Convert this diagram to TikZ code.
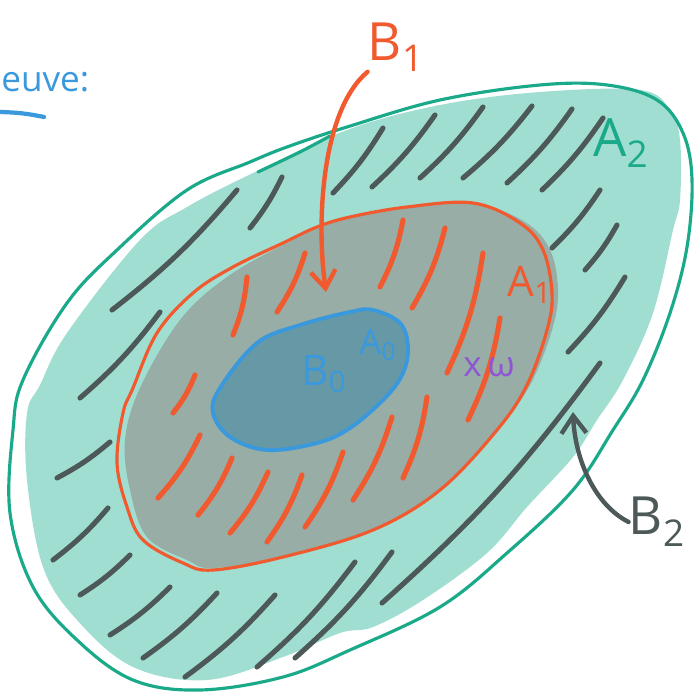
\documentclass[tikz,border=0pt]{standalone}
\usepackage{fontspec}
\setmainfont{Open Sans}
\usetikzlibrary{arrows.meta}

\definecolor{rimgreen}{HTML}{1AAA8A}
\definecolor{ringteal}{HTML}{A0DED2}
\definecolor{midgray}{HTML}{97ADA5}
\definecolor{coreblue}{HTML}{3A98DD}
\definecolor{corefill}{HTML}{6699A5}
\definecolor{penorange}{HTML}{F05A2E}
\definecolor{pengray}{HTML}{4D5858}
\definecolor{penpurple}{HTML}{8E55D5}

\begin{document}
\begin{tikzpicture}[x=0.02cm, y=-0.02cm,
  % Region Styles
  rim/.style={draw=rimgreen, line width=1.8pt, line cap=round},
  ringfill/.style={fill=ringteal},
  midfill/.style={fill=midgray},
  midrim/.style={draw=penorange, line width=1.8pt},
  corerim/.style={draw=coreblue, line width=2.2pt, fill=corefill},
  % Stroke Styles
  hatchdark/.style={draw=pengray, line width=2.9pt, line cap=round},
  hatchred/.style={draw=penorange, line width=2.9pt, line cap=round},
  pointer/.style={line width=2.5pt, line cap=round, -{Straight Barb[length=3.5mm, width=5mm]}},
  % Label Styles
  biglabel/.style={font=\fontsize{30}{30}\selectfont, inner sep=0pt},
  midlabel/.style={font=\fontsize{24}{24}\selectfont, inner sep=0pt},
  smalllabel/.style={font=\fontsize{20}{20}\selectfont, inner sep=0pt},
]
\useasboundingbox (0,0) rectangle (693,695);

% Outer set A2
\fill[ringfill] plot[smooth cycle, tension=0.6] coordinates {(253,173) (347,130) (440,105) (540,92) (640,90) (670,110) (680,140) (680,200) (673,230) (653,313) (623,380) (597,420) (573,457) (527,507) (487,553) (423,600) (373,627) (340,633) (283,657) (207,680) (133,667) (77,620) (43,567) (27,480) (27,413) (40,385) (67,333) (140,240) (187,207)};
\draw[rim] plot[smooth cycle, tension=0.6] coordinates {(287,147) (347,127) (440,100) (540,85) (607,85) (657,100) (683,133) (692,180) (687,247) (670,313) (643,380) (613,430) (573,490) (507,553) (440,607) (350,650) (283,677) (200,690) (133,680) (77,640) (33,587) (10,513) (13,430) (23,380) (67,303) (117,250) (187,190) (250,162)};
\draw[rim] plot[smooth] coordinates {(258,172) (300,152) (330,136)};

% Middle set A1
\fill[midfill] plot[smooth cycle, tension=0.6] coordinates {(140,388) (180,320) (227,277) (287,243) (340,220) (407,207) (473,203) (525,222) (550,250) (558,290) (552,330) (530,385) (497,430) (440,490) (373,530) (283,557) (213,568) (187,560) (147,537) (130,490) (125,440)};
\draw[midrim] plot[smooth cycle, tension=0.6] coordinates {(133,388) (157,333) (193,293) (233,267) (283,243) (317,227) (350,217) (407,207) (473,203) (520,223) (543,250) (552,293) (547,330) (527,385) (497,430) (440,490) (373,530) (283,557) (213,570) (183,563) (143,540) (127,507) (117,463) (123,413)};

% Inner set A0
\draw[corerim] plot[smooth cycle, tension=0.6] coordinates {(220,388) (257,343) (300,325) (350,312) (373,310) (400,323) (408,347) (403,373) (385,398) (350,428) (317,443) (267,450) (230,437) (213,413)};

% Hatching of B2
\foreach \ax/\ay/\bx/\by in {112/310/237/190, 250/228/282/177, 333/193/383/128, 80/398/160/312,
    372/187/435/115, 420/178/483/107, 463/178/532/106, 507/183/572/109, 542/190/603/118,
    552/248/600/190, 585/270/617/225, 568/352/625/277, 382/603/600/363,
    57/478/110/442, 53/560/108/508, 80/595/130/555, 110/635/170/587, 143/658/217/593,
    185/677/275/595, 257/667/355/562, 295/658/392/552}
  \draw[hatchdark] (\ax,\ay) to[bend right=6] (\bx,\by);

% Hatching of B1
\foreach \ax/\ay/\bx/\by in {233/335/247/277, 277/312/305/253, 173/413/195/375, 158/498/200/435,
    198/515/232/458, 230/533/268/472, 267/542/302/475, 305/527/343/452, 353/500/392/417,
    403/478/427/397, 468/420/500/318, 380/287/403/220, 412/308/445/228, 447/373/483/253}
  \draw[hatchred] (\ax,\ay) to[bend right=8] (\bx,\by);

% Labels
\node[biglabel, text=penorange] (B1) at (396,47) {B\textsubscript{1}};
\node[biglabel, text=rimgreen] (A2) at (621,143) {A\textsubscript{2}};
\node[midlabel, text=penorange] (A1) at (530,285) {A\textsubscript{1}};
\node[smalllabel, text=coreblue] (A0) at (378,345) {A\textsubscript{0}};
\node[midlabel, text=coreblue] (B0) at (324,374) {B\textsubscript{0}};
\node[smalllabel, text=penpurple] (w) at (489,367) {x\,ω};
\node[biglabel, text=pengray] (B2) at (657,522) {B\textsubscript{2}};
\node[font=\fontsize{20}{20}\selectfont, text=coreblue, anchor=west, inner sep=0pt] (proof) at (1,82) {euve:};
\draw[coreblue, line width=2.4pt, line cap=round] (0,112) to[bend left=5] (44,117);

% Pointers
\coordinate (b1tip) at (326,292);
\coordinate (b2tip) at (573,412);
\draw[pointer, penorange] (B1.south west) .. controls (322,110) and (316,220) .. (b1tip);
\draw[pointer, pengray] (B2.west) .. controls (595,505) and (575,460) .. (b2tip);

\end{tikzpicture}
\end{document}
